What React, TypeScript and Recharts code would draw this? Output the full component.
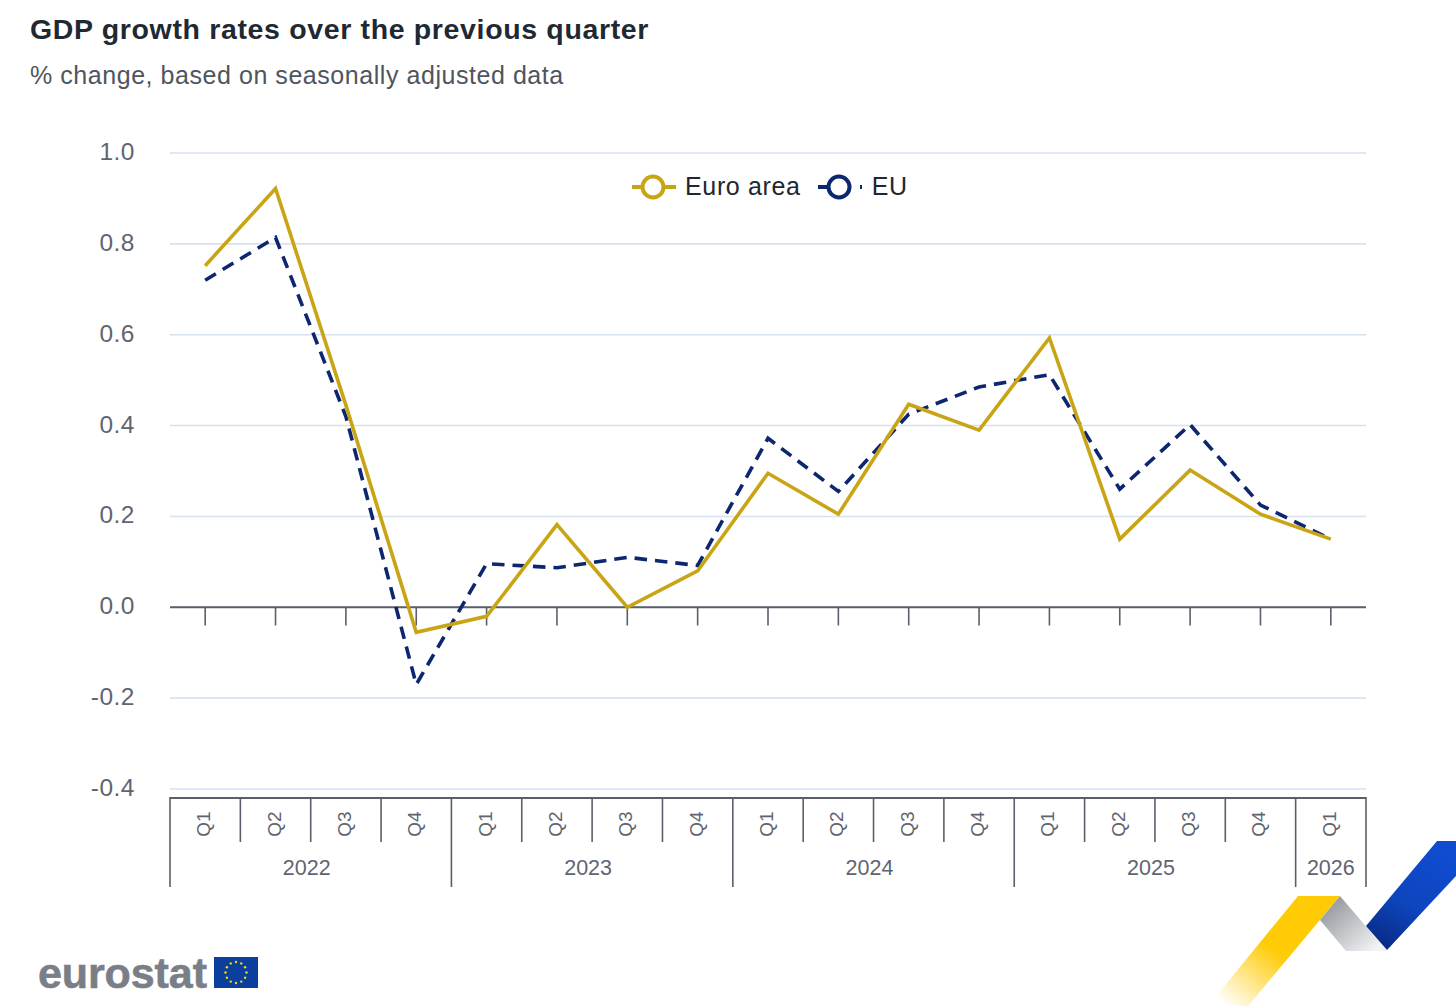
import React from "react";
import { ComposedChart, Line, XAxis, YAxis, CartesianGrid, ReferenceLine, Legend } from "recharts";

const years = ["2022", "2022", "2022", "2022", "2023", "2023", "2023", "2023", "2024", "2024", "2024", "2024", "2025", "2025", "2025", "2025", "2026"];
const quarters = ["Q1", "Q2", "Q3", "Q4", "Q1", "Q2", "Q3", "Q4", "Q1", "Q2", "Q3", "Q4", "Q1", "Q2", "Q3", "Q4", "Q1"];
const euroArea = [0.752, 0.922, 0.445, -0.055, -0.02, 0.182, 0.0, 0.08, 0.295, 0.205, 0.447, 0.39, 0.593, 0.15, 0.302, 0.205, 0.15];
const eu = [0.72, 0.814, 0.42, -0.17, 0.096, 0.087, 0.11, 0.092, 0.372, 0.255, 0.425, 0.485, 0.512, 0.26, 0.402, 0.225, 0.15];
const yTicks = [-0.4, -0.2, 0, 0.2, 0.4, 0.6, 0.8, 1];

const data = years.map((y, i) => ({
  key: `${y} ${quarters[i]}`,
  euroArea: euroArea[i],
  eu: eu[i],
}));

const FONT = '"Liberation Sans", Arial, sans-serif';
const GOLD = "#c9a516";
const NAVY = "#0c2670";
const AXIS = "#5a5f69";
const LABEL = "#5f6570";
const W = 1456;
const H = 1008;
const LEFT = 170;
const RIGHT = 1366;
const TOP = 153;
const BOTTOM = 789;
const BAND = (RIGHT - LEFT) / years.length;

function CategoryTick(props: any) {
  const { x, y, index } = props;
  const i = index as number;
  const left = x - BAND / 2;
  const right = x + BAND / 2;
  const top = y;
  const isYearEnd = i === years.length - 1 || years[i + 1] !== years[i];
  const isYearStart = i === 0 || years[i - 1] !== years[i];
  let firstIdx = i;
  while (firstIdx > 0 && years[firstIdx - 1] === years[i]) firstIdx--;
  const count = years.filter((v) => v === years[i]).length;
  const yearCenter = left - (i - firstIdx) * BAND + (count * BAND) / 2 - (count > 1 ? 4 : 0);
  return (
    <g>
      <line x1={left} x2={right} y1={top} y2={top} stroke={AXIS} strokeWidth={2} />
      {i === 0 && <line x1={left} x2={left} y1={top - 1} y2={top + 89} stroke={AXIS} strokeWidth={1.6} />}
      <line x1={right} x2={right} y1={top - 1} y2={top + (isYearEnd ? 89 : 44)} stroke={AXIS} strokeWidth={1.6} />
      <text
        x={x + 5}
        y={top + 26}
        transform={`rotate(-90 ${x + 5} ${top + 26})`}
        textAnchor="middle"
        fontSize={19}
        fontFamily={FONT}
        fill={LABEL}
      >
        {quarters[i]}
      </text>
      {isYearStart && (
        <text x={yearCenter} y={top + 77} textAnchor="middle" fontSize={21.5} fontFamily={FONT} fill={LABEL}>
          {years[i]}
        </text>
      )}
    </g>
  );
}

function ValueTick(props: any) {
  const { x, y, payload } = props;
  return (
    <text x={x} y={y} dy={7} textAnchor="end" fontSize={24.5} letterSpacing={0.5} fontFamily={FONT} fill={LABEL}>
      {Number(payload.value).toFixed(1)}
    </text>
  );
}

function LegendIcon({ color, dashed }: { color: string; dashed: boolean }) {
  return (
    <svg width={46} height={26} style={{ display: "block" }}>
      <line x1={1} x2={45} y1={13} y2={13} stroke={color} strokeWidth={4} strokeDasharray={dashed ? "20 22 2 10" : undefined} />
      <circle cx={22} cy={13} r={10.5} fill="#fff" stroke={color} strokeWidth={4} />
    </svg>
  );
}

function LegendBox(props: any) {
  const items = [...((props.payload || []) as any[])].reverse();
  return (
    <div style={{ display: "flex", alignItems: "center", fontFamily: FONT, fontSize: 25, color: "#22262e", letterSpacing: 0.65 }}>
      {items.map((it, idx) => (
        <div key={it.value} style={{ display: "flex", alignItems: "center", marginRight: idx === 0 ? 16 : 0 }}>
          <LegendIcon color={it.color} dashed={idx === 1} />
          <span style={{ marginLeft: idx === 0 ? 8 : 9 }}>{it.value}</span>
        </div>
      ))}
    </div>
  );
}

function Ribbon() {
  return (
    <svg width={W} height={H} style={{ position: "absolute", left: 0, top: 0, pointerEvents: "none" }}>
      <defs>
        <linearGradient id="yg" x1="1310" y1="900" x2="1225" y2="1005" gradientUnits="userSpaceOnUse">
          <stop offset="0" stopColor="#ffcb05" />
          <stop offset="0.45" stopColor="#ffcb05" />
          <stop offset="1" stopColor="#ffffff" />
        </linearGradient>
        <linearGradient id="gg" x1="1325" y1="900" x2="1372" y2="952" gradientUnits="userSpaceOnUse">
          <stop offset="0" stopColor="#8f9298" />
          <stop offset="1" stopColor="#f2f3f5" />
        </linearGradient>
        <linearGradient id="bg" x1="1440" y1="850" x2="1380" y2="950" gradientUnits="userSpaceOnUse">
          <stop offset="0" stopColor="#0f4cd0" />
          <stop offset="0.55" stopColor="#0d45bd" />
          <stop offset="1" stopColor="#08297f" />
        </linearGradient>
      </defs>
      <polygon points="1298,896 1340,896 1248,1006 1208,1006" fill="url(#yg)" />
      <polygon points="1340,896 1387,951 1346,951 1320,920" fill="url(#gg)" />
      <polygon points="1437,841 1456,841 1456,876 1387,950 1366,926" fill="url(#bg)" />
    </svg>
  );
}

function Logo() {
  return (
    <div style={{ position: "absolute", left: 0, top: 0 }}>
      <div
        style={{
          position: "absolute",
          left: 38,
          top: 948,
          fontFamily: '"Liberation Sans", Arial, sans-serif',
          fontWeight: 700,
          fontSize: 43,
          lineHeight: "50px",
          color: "#7a7e87",
          WebkitTextStroke: "0.6px #7a7e87",
          letterSpacing: -0.1,
          whiteSpace: "nowrap",
        }}
      >
        eurostat
      </div>
      <svg width={44} height={31} style={{ position: "absolute", left: 214, top: 957 }}>
        <rect width={44} height={31} fill="#0b3f9e" />
        {Array.from({ length: 12 }).map((_, k) => {
          const a = (k * Math.PI) / 6;
          return <circle key={k} cx={22 + 10.5 * Math.cos(a)} cy={15.5 + 10.5 * Math.sin(a)} r={1.2} fill="#f5d90a" />;
        })}
      </svg>
    </div>
  );
}

export default function App() {
  return (
    <div style={{ position: "absolute", left: 0, top: 0, width: W, height: H, background: "#fff", overflow: "hidden" }}>
      <div style={{ position: "absolute", left: 30, top: 11, fontFamily: FONT, fontWeight: 700, fontSize: 28.5, lineHeight: "36px", color: "#1f2933", letterSpacing: 0.65, whiteSpace: "nowrap" }}>
        GDP growth rates over the previous quarter
      </div>
      <div style={{ position: "absolute", left: 30, top: 59, fontFamily: FONT, fontSize: 25, lineHeight: "32px", color: "#4f5560", letterSpacing: 0.55, whiteSpace: "nowrap" }}>
        % change, based on seasonally adjusted data
      </div>
      <div style={{ position: "absolute", left: 0, top: 0 }}>
        <ComposedChart
          width={W}
          height={H}
          data={data}
          margin={{ left: 0, right: W - RIGHT, top: TOP, bottom: 0 }}
        >
          <CartesianGrid horizontal vertical={false} stroke="#d8e2ee" strokeWidth={1.6} />
          <XAxis
            dataKey="key"
            scale="band"
            interval={0}
            axisLine={false}
            tickLine={false}
            height={H - BOTTOM}
            tickMargin={0}
            tick={(p: any) => <CategoryTick {...p} y={798} />}
          />
          <YAxis
            domain={[-0.4, 1]}
            ticks={yTicks}
            width={LEFT}
            axisLine={false}
            tickLine={false}
            tick={(p: any) => <ValueTick {...p} x={135} />}
          />
          <ReferenceLine y={0} stroke={AXIS} strokeWidth={2} ifOverflow="visible" />
          {data.map((d) => (
            <ReferenceLine
              key={d.key}
              segment={[
                { x: d.key, y: 0 },
                { x: d.key, y: -0.04 },
              ]}
              stroke={AXIS}
              strokeWidth={1.6}
            />
          ))}
          <Legend
            layout="horizontal"
            verticalAlign="middle"
            align="center"
            itemSorter={null}
            content={<LegendBox />}
            wrapperStyle={{ position: "absolute", left: 631, top: 172, width: 320 }}
          />
          <Line
            dataKey="eu"
            name="EU"
            stroke={NAVY}
            strokeWidth={3.6}
            strokeDasharray="12.5 8"
            dot={false}
            isAnimationActive={false}
          />
          <Line
            dataKey="euroArea"
            name="Euro area"
            stroke={GOLD}
            strokeWidth={3.6}
            dot={false}
            isAnimationActive={false}
          />
        </ComposedChart>
      </div>
      <Ribbon />
      <Logo />
    </div>
  );
}
